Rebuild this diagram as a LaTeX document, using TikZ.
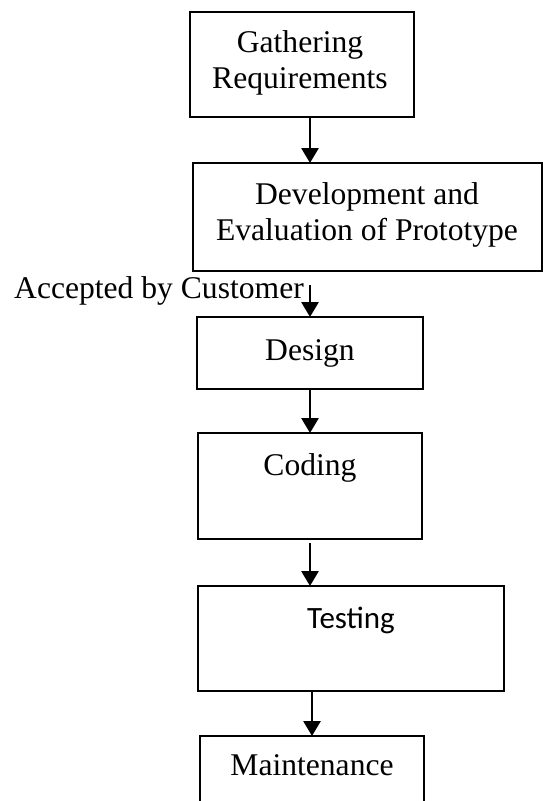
\documentclass[tikz,border=0pt]{standalone}
\usepackage{fontspec}
\setmainfont{Liberation Serif}
\newfontfamily\calibri{Carlito}
\usetikzlibrary{arrows.meta,positioning}
\tikzset{
  stage/.style={draw,line width=2.8pt,outer sep=0pt,inner sep=0pt,anchor=north west},
  txt/.style={font=\fontsize{31.6}{36}\selectfont,inner sep=0pt,align=center,anchor=base},
  flow/.style={line width=2.8pt,-{Triangle[length=15pt,width=17pt]}}
}
\begin{document}
\begin{tikzpicture}[x=1pt,y=-1pt]
\useasboundingbox (0,0) rectangle (543,801);
% boxes
\node[stage,minimum width=224pt,minimum height=105pt](GR) at (190,12){};
\node[stage,minimum width=349pt,minimum height=108pt](DEV) at (193,163){};
\node[stage,minimum width=226pt,minimum height=72pt](DES) at (197,317){};
\node[stage,minimum width=224pt,minimum height=106pt](COD) at (198,433){};
\node[stage,minimum width=306pt,minimum height=105pt](TST) at (198,586){};
\node[stage,minimum width=224pt,minimum height=100pt](MNT) at (200,736){};
% texts (base = last line)
\node[txt](GRt) at (300,88){Gathering\\Requirements};
\node[txt](DEVt) at (367,240){Development and\\Evaluation of Prototype};
\node[txt,anchor=base west](ACC) at (14,298){Accepted by Customer};
\node[txt](DESt) at (310,360){Design};
\node[txt](CODt) at (310,475){Coding};
\node[txt,font=\calibri\fontsize{31}{36}\selectfont](TSTt) at (351,628){Testing};
\node[txt](MNTt) at (312,775){Maintenance};
% arrows
\draw[flow] (GR.south -| DES.north) -- (DEV.north -| DES.north);
\draw[flow] ([yshift=-14pt]DEV.south -| DES.north) -- (DES.north);
\draw[flow] (DES.south) -- (COD.north);
\draw[flow] ([yshift=-4pt]COD.south) -- (COD.south |- TST.north);
\draw[flow] (TST.south -| MNT.north) -- (MNT.north);
\end{tikzpicture}
\end{document}
